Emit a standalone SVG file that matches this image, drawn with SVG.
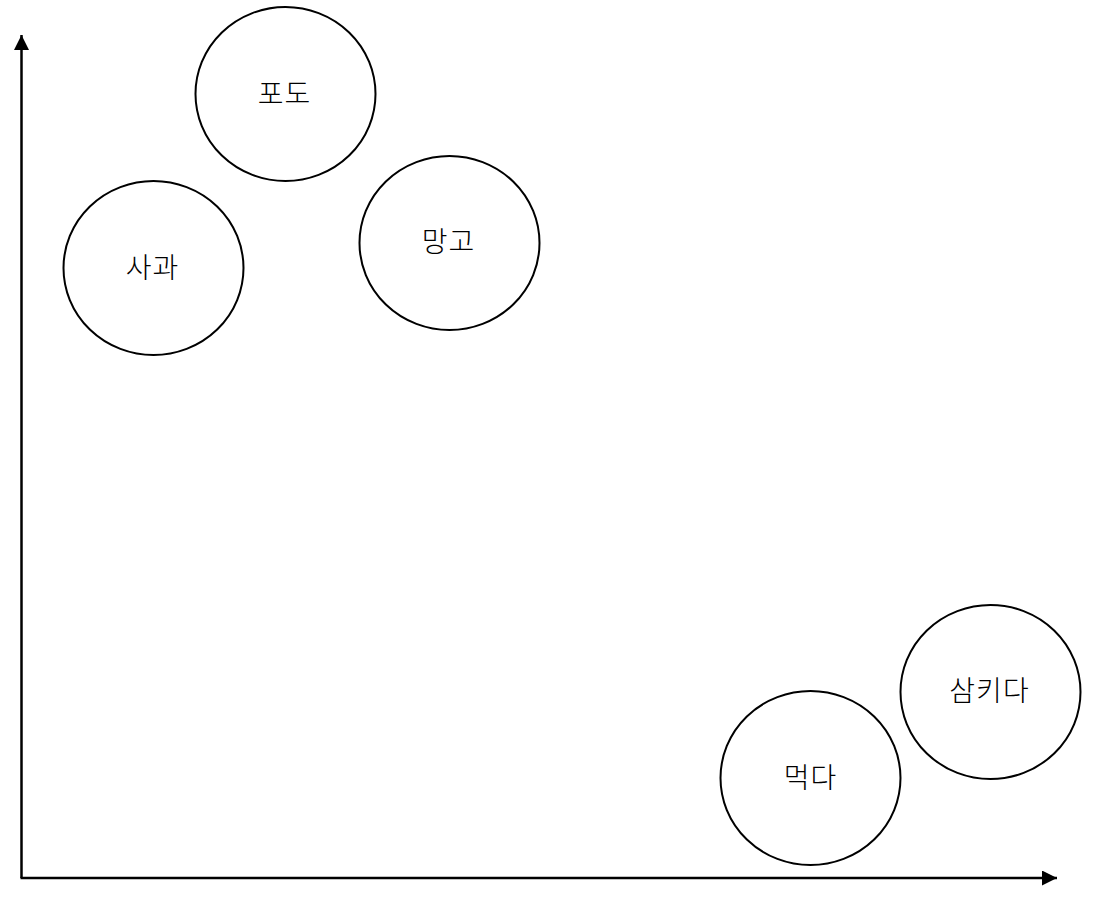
<svg xmlns="http://www.w3.org/2000/svg" width="1098" height="910" viewBox="0 0 1098 910">
<style>
.node ellipse{fill:#fff;stroke:#000;stroke-width:2}
.node text{font-family:"Noto Sans CJK KR","Noto Sans",sans-serif;font-size:28px;font-weight:300;letter-spacing:1px;fill:#000;text-anchor:middle;dominant-baseline:central}
.axis{stroke:#000;stroke-width:2.5;fill:none}
</style>
<defs>
<marker id="ah" viewBox="0 0 10 10" refX="10" refY="5" markerWidth="6" markerHeight="6" markerUnits="strokeWidth" orient="auto">
<path d="M0,0 L10,5 L0,10 z" fill="#000"/>
</marker>
</defs>
<rect width="1098" height="910" fill="#fff"/>
<g id="connectors">
<path class="axis" d="M21.5,878 L21.5,35" marker-end="url(#ah)"/>
<path class="axis" d="M20.5,878 L1057,878" marker-end="url(#ah)"/>
</g>
<g id="node-podo" class="node"><ellipse cx="285.5" cy="94" rx="90" ry="87"/><text x="284.5" y="92">포도</text></g>
<g id="node-sagwa" class="node"><ellipse cx="153.5" cy="268" rx="90" ry="87"/><text x="152.5" y="266">사과</text></g>
<g id="node-mango" class="node"><ellipse cx="449.5" cy="243" rx="90" ry="87"/><text x="448.5" y="240">망고</text></g>
<g id="node-meokda" class="node"><ellipse cx="810.5" cy="778" rx="90" ry="87"/><text x="810.5" y="776">먹다</text></g>
<g id="node-samkida" class="node"><ellipse cx="990.5" cy="692" rx="90" ry="87"/><text x="989.5" y="689">삼키다</text></g>
</svg>
